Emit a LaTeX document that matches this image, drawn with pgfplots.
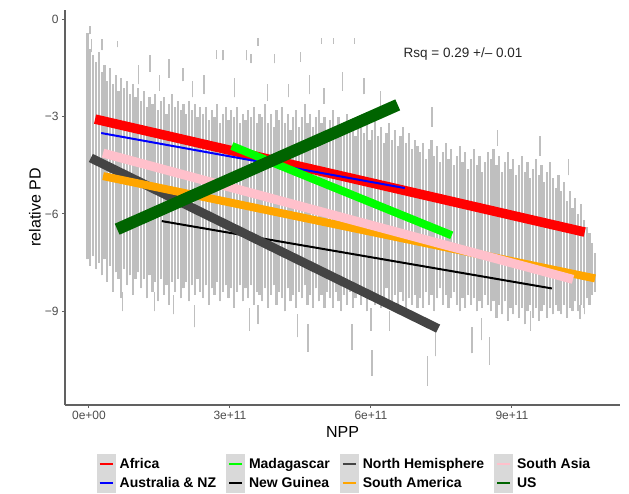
\documentclass[border=0pt]{standalone}
\usepackage{pgfplots}
\pgfplotsset{compat=1.18}
\usepackage{pgfplotstable}
\usepackage{fontspec}
\setmainfont{Liberation Sans}
\definecolor{cAfrica}{HTML}{FF0000}
\definecolor{cAus}{HTML}{0000FF}
\definecolor{cMad}{HTML}{00FF00}
\definecolor{cNG}{HTML}{000000}
\definecolor{cNH}{HTML}{444444}
\definecolor{cSAm}{HTML}{FFA500}
\definecolor{cSAs}{HTML}{FFC0CB}
\definecolor{cUS}{HTML}{006400}
\definecolor{cPts}{HTML}{BFBFBF}

% dense vertical dashes of the point cloud: x (1e11), top, bottom
\pgfplotstableread{
x hi lo
-0.03 -0.4 -7.4
0.03 -0.9 -7.6
0.09 -1.1 -7.3
0.15 -1.3 -7.7
0.21 -1.0 -7.5
0.27 -1.6 -7.9
0.33 -1.4 -7.4
0.39 -1.9 -8.1
0.45 -1.5 -7.6
0.51 -2.0 -8.4
0.57 -1.7 -7.8
0.63 -2.2 -8.0
0.69 -1.8 -8.6
0.75 -2.1 -7.7
0.81 -1.9 -8.2
0.87 -2.3 -7.9
0.93 -2.0 -8.5
0.99 -2.4 -8.0
1.05 -2.1 -7.8
1.11 -2.5 -8.3
1.17 -2.2 -8.0
1.23 -2.7 -8.6
1.29 -2.4 -7.9
1.35 -2.6 -8.4
1.41 -2.3 -8.1
1.47 -2.8 -8.7
1.53 -2.5 -8.0
1.59 -2.4 -8.5
1.65 -2.9 -8.2
1.71 -2.6 -8.8
1.77 -2.3 -8.1
1.83 -2.7 -8.4
1.89 -2.5 -8.0
1.95 -2.8 -8.6
2.01 -2.6 -8.3
2.07 -2.9 -8.1
2.13 -2.5 -8.7
2.19 -2.8 -8.2
2.25 -2.6 -8.5
2.31 -3.0 -8.0
2.37 -2.7 -8.4
2.43 -2.9 -8.6
2.49 -2.7 -8.2
2.55 -3.1 -8.8
2.61 -2.8 -8.3
2.67 -3.0 -8.5
2.73 -2.6 -8.1
2.79 -3.2 -8.7
2.85 -2.9 -8.4
2.91 -2.7 -8.2
2.97 -3.1 -8.6
3.03 -2.8 -8.3
3.09 -3.0 -8.9
3.15 -2.7 -8.4
3.21 -3.2 -8.2
3.27 -2.9 -8.7
3.33 -3.1 -8.3
3.39 -2.8 -8.6
3.45 -3.0 -8.2
3.51 -2.7 -8.8
3.57 -3.2 -8.4
3.63 -2.9 -8.5
3.69 -3.0 -8.7
3.75 -2.6 -8.3
3.81 -3.2 -8.9
3.87 -2.9 -8.5
3.93 -3.3 -8.2
3.99 -2.8 -8.8
4.05 -3.1 -8.4
4.11 -2.7 -8.6
4.17 -3.2 -9.0
4.23 -2.9 -8.3
4.29 -3.4 -8.7
4.35 -3.0 -8.5
4.41 -2.8 -8.9
4.47 -3.3 -8.4
4.53 -3.0 -8.6
4.59 -2.6 -8.2
4.65 -3.2 -8.8
4.71 -2.9 -8.5
4.77 -3.3 -8.9
4.83 -3.0 -8.3
4.89 -2.8 -8.7
4.95 -3.2 -8.5
5.01 -3.0 -8.9
5.07 -3.4 -8.4
5.13 -3.1 -8.6
5.19 -2.8 -8.9
5.25 -3.3 -8.4
5.31 -3.0 -8.7
5.37 -3.5 -9.0
5.43 -3.2 -8.5
5.49 -2.9 -8.8
5.55 -3.4 -8.4
5.61 -3.1 -8.9
5.67 -3.6 -8.6
5.73 -3.3 -8.3
5.79 -3.0 -8.8
5.85 -3.5 -8.5
5.91 -3.2 -9.0
5.97 -3.7 -8.6
6.03 -3.4 -8.4
6.09 -3.1 -8.8
6.15 -3.6 -8.5
6.21 -3.3 -8.9
6.27 -3.8 -8.6
6.33 -3.5 -8.3
6.39 -3.2 -8.7
6.45 -3.7 -8.9
6.51 -3.4 -8.5
6.57 -3.9 -8.8
6.63 -3.6 -8.4
6.69 -3.3 -8.7
6.75 -3.8 -9.0
6.81 -3.5 -8.6
6.87 -4.0 -8.8
6.93 -3.7 -8.5
6.99 -3.9 -8.9
7.05 -4.1 -8.6
7.11 -3.8 -8.9
7.17 -4.3 -8.4
7.23 -4.0 -8.8
7.29 -3.7 -8.5
7.35 -4.2 -9.0
7.41 -3.9 -8.6
7.47 -4.4 -8.3
7.53 -4.1 -8.8
7.59 -3.8 -8.5
7.65 -4.3 -8.9
7.71 -4.0 -8.6
7.77 -4.5 -8.4
7.83 -4.2 -8.8
7.89 -3.9 -9.0
7.95 -4.4 -8.6
8.01 -4.1 -8.9
8.07 -4.6 -8.5
8.13 -4.3 -8.8
8.19 -4.0 -8.6
8.25 -4.5 -9.0
8.31 -4.2 -8.7
8.37 -4.7 -8.9
8.43 -4.4 -8.5
8.49 -4.1 -8.8
8.55 -4.3 -9.0
8.61 -4.0 -8.7
8.67 -4.5 -9.2
8.73 -4.2 -8.8
8.79 -4.7 -9.1
8.85 -4.4 -8.7
8.91 -4.1 -9.3
8.97 -4.6 -8.9
9.03 -4.3 -9.1
9.09 -4.8 -8.8
9.15 -4.5 -9.2
9.21 -4.2 -8.9
9.27 -4.7 -9.4
9.33 -4.4 -9.0
9.39 -4.9 -8.8
9.45 -4.6 -9.2
9.51 -4.3 -8.9
9.57 -4.8 -9.3
9.63 -4.5 -9.0
9.69 -5.0 -8.8
9.75 -4.7 -9.2
9.81 -4.4 -8.9
9.87 -4.9 -9.1
9.93 -5.2 -8.8
9.99 -4.8 -9.0
10.05 -5.3 -9.1
10.11 -5.0 -8.8
10.17 -5.6 -9.2
10.23 -5.3 -8.9
10.29 -5.8 -9.0
10.35 -5.5 -8.7
10.41 -6.0 -9.0
10.47 -5.7 -8.8
10.53 -6.2 -8.9
10.59 -6.4 -8.6
10.65 -6.6 -8.8
10.71 -6.9 -8.5
10.77 -7.2 -8.4
}\densetable

% scattered short dashes (outliers)
\pgfplotstableread{
x hi lo
0.02 -0.2 -0.45
0.05 -0.6 -1.0
0.28 -0.6 -0.95
0.60 -0.65 -0.85
1.05 -1.4 -2.0
1.30 -1.1 -1.6
1.50 -1.7 -2.2
1.70 -1.2 -1.8
2.00 -1.5 -1.9
2.20 -1.9 -2.4
2.45 -1.7 -2.3
2.72 -0.95 -1.2
2.85 -0.95 -1.25
3.10 -1.8 -2.4
3.35 -0.95 -1.25
3.45 -1.05 -1.35
3.60 -0.55 -0.8
3.80 -2.0 -2.5
3.95 -1.05 -1.35
4.25 -2.0 -2.4
4.50 -1.0 -1.3
4.70 -1.7 -2.3
4.95 -0.55 -0.75
5.00 -2.1 -2.6
5.20 -0.55 -0.75
5.40 -1.6 -2.2
5.65 -0.55 -0.75
5.85 -1.8 -2.3
6.20 -2.2 -2.7
7.30 -2.7 -3.3
8.70 -3.4 -3.9
9.60 -3.6 -4.2
10.20 -4.3 -4.8
0.72 -8.4 -9.0
1.40 -8.4 -9.0
1.80 -8.5 -9.1
2.25 -8.8 -9.5
3.42 -8.9 -9.6
3.60 -8.8 -9.4
4.43 -9.1 -9.8
4.66 -9.4 -10.25
5.60 -9.4 -10.2
6.00 -8.9 -9.6
6.02 -10.2 -11.0
6.40 -9.0 -9.6
7.20 -10.4 -11.3
7.37 -9.6 -10.4
8.15 -9.5 -10.3
8.36 -9.2 -9.9
8.53 -9.8 -10.65
9.40 -9.0 -9.6
10.45 -8.8 -9.25
10.55 -8.7 -9.1
}\sparsetable

\begin{document}
\begin{tikzpicture}
\path[use as bounding box] (-65pt,-88pt) rectangle (564pt,405pt);
\begin{axis}[
  scale only axis, width=555pt, height=395pt,
  xmin=-0.51, xmax=11.3, ymin=-11.9, ymax=0.3,
  axis x line*=bottom, axis y line*=left,
  axis line style={draw=black!62, line width=1.3pt},
  xtick={0,3,6,9}, xticklabels={0e+00,3e+11,6e+11,9e+11},
  ytick={-9,-6,-3,0}, yticklabels={−9,−6,−3,0},
  tick align=outside, major tick length=3pt,
  tick style={draw=black!62, line width=1pt},
  ticklabel style={font=\fontsize{12}{14}\selectfont, text=black!70},
  xlabel={NPP}, ylabel={relative PD},
  label style={font=\fontsize{16}{18}\selectfont},
  xlabel style={at={(axis description cs:0.5,-0.068)}, anchor=center},
  ylabel style={at={(axis description cs:-0.054,0.5)}, anchor=center},
  legend columns=4, legend cell align=left,
  legend style={at={(axis description cs:0.5036,-0.1734)}, anchor=center,
    draw=none, fill=none, font=\fontsize{14}{16}\selectfont\bfseries,
    /tikz/every even column/.append style={column sep=8pt}},
  legend image code/.code={\fill[black!15] (0pt,-8.75pt) rectangle (17pt,8.75pt);
    \path[draw=none, fill=none] (0pt,0pt) -- (20pt,0pt);
    \draw[#1] (2pt,0pt) -- (15pt,0pt);},
]
\addplot[forget plot, only marks, mark=none, mark size=0pt,
  mark options={draw=none, fill=none},
  error bars/.cd, y dir=plus, y explicit, error mark=none,
  error bar style={draw=cPts, line width=2.2pt}]
  table[x=x, y=lo, y error expr=\thisrow{hi}-\thisrow{lo}] {\densetable};
\addplot[forget plot, only marks, mark=none, mark size=0pt,
  mark options={draw=none, fill=none},
  error bars/.cd, y dir=plus, y explicit, error mark=none,
  error bar style={draw=cPts, line width=1.3pt}]
  table[x=x, y=lo, y error expr=\thisrow{hi}-\thisrow{lo}] {\sparsetable};

\addplot[forget plot, cAfrica, line width=9.5pt] coordinates {(0.13,-3.07) (10.55,-6.56)};
\addplot[forget plot, cAus, line width=2pt] coordinates {(0.26,-3.50) (6.72,-5.20)};
\addplot[forget plot, cMad, line width=8pt] coordinates {(3.04,-3.90) (7.72,-6.66)};
\addplot[forget plot, cNG, line width=2pt] coordinates {(1.55,-6.22) (9.85,-8.30)};
\addplot[forget plot, cNH, line width=9pt] coordinates {(0.04,-4.27) (7.43,-9.54)};
\addplot[forget plot, cSAm, line width=8pt] coordinates {(0.30,-4.83) (10.77,-7.99)};
\addplot[forget plot, cSAs, line width=9pt] coordinates {(0.30,-4.12) (10.30,-8.02)};
\addplot[forget plot, cUS, line width=12pt] coordinates {(0.60,-6.47) (6.57,-2.63)};

\node[font=\fontsize{13.5}{16}\selectfont, text=black!85] at (axis cs:7.96,-1.05) {Rsq = 0.29 +/– 0.01};

\addlegendimage{cAfrica, line width=1.8pt}\addlegendentry{Africa}
\addlegendimage{cMad, line width=1.8pt}\addlegendentry{Madagascar}
\addlegendimage{cNH, line width=1.8pt}\addlegendentry{North Hemisphere}
\addlegendimage{cSAs, line width=1.8pt}\addlegendentry{South Asia}
\addlegendimage{cAus, line width=1.8pt}\addlegendentry{Australia \& NZ}
\addlegendimage{cNG, line width=1.8pt}\addlegendentry{New Guinea}
\addlegendimage{cSAm, line width=1.8pt}\addlegendentry{South America}
\addlegendimage{cUS, line width=1.8pt}\addlegendentry{US}
\end{axis}
\end{tikzpicture}
\end{document}
